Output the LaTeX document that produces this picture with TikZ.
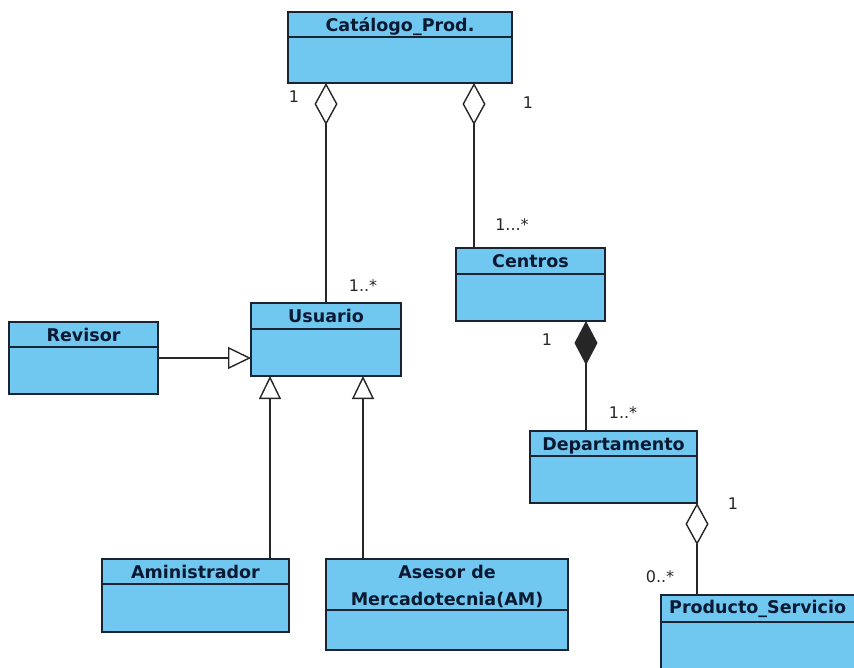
\documentclass[tikz,border=0pt]{standalone}
\usepackage{fontspec}
\setmainfont{DejaVu Sans}
\usetikzlibrary{arrows.meta}
\usetikzlibrary{positioning}
\usetikzlibrary{calc}

\definecolor{classfill}{RGB}{112,200,240}
\definecolor{classedge}{RGB}{25,35,50}
\definecolor{classtext}{RGB}{10,25,50}

\tikzset{
  classbox/.style={draw=classedge, fill=classfill, line width=1.6pt, inner sep=0pt, outer sep=0pt},
  headline/.style={draw=classedge, line width=1.4pt},
  classname/.style={text=classtext, font=\bfseries\fontsize{17.5}{27}\selectfont, inner sep=0pt, anchor=base, align=center},
  mult/.style={text=black!85, font=\fontsize{16}{18}\selectfont, inner sep=0pt},
  link/.style={draw=black!85, line width=1.4pt},
  aggr/.style={link, {Diamond[fill=white, length=42pt, width=23pt, line width=1.4pt]}-},
  comp/.style={link, {Diamond[length=44pt, width=23pt]}-},
  gen/.style={link, -{Triangle[fill=white, length=23pt, width=22pt, line width=1.4pt]}}
}

\begin{document}
\begin{tikzpicture}[x=1pt, y=-1pt]
\useasboundingbox (0,0) rectangle (854,667);
\clip (0,0) rectangle (854,667);

% classes
\node[classbox, minimum width=224, minimum height=71] (catalogo) at (400,47.5) {};
\draw[headline] ($(catalogo.north west)+(0,25)$) -- ($(catalogo.north east)+(0,25)$);
\node[classname] (catalogo-name) at ($(catalogo.north)+(0,19)$) {Catálogo\_Prod.};

\node[classbox, minimum width=150, minimum height=73] (usuario) at (326,339.5) {};
\draw[headline] ($(usuario.north west)+(0,26)$) -- ($(usuario.north east)+(0,26)$);
\node[classname] (usuario-name) at ($(usuario.north)+(0,19.5)$) {Usuario};

\node[classbox, minimum width=149, minimum height=72] (revisor) at (83.5,358) {};
\draw[headline] ($(revisor.north west)+(0,25)$) -- ($(revisor.north east)+(0,25)$);
\node[classname] (revisor-name) at ($(revisor.north)+(0,19)$) {Revisor};

\node[classbox, minimum width=149, minimum height=73] (centros) at (530.5,284.5) {};
\draw[headline] ($(centros.north west)+(0,26)$) -- ($(centros.north east)+(0,26)$);
\node[classname] (centros-name) at ($(centros.north)+(0,19.5)$) {Centros};

\node[classbox, minimum width=167, minimum height=72] (departamento) at (613.5,467) {};
\draw[headline] ($(departamento.north west)+(0,25)$) -- ($(departamento.north east)+(0,25)$);
\node[classname] (departamento-name) at ($(departamento.north)+(0,19)$) {Departamento};

\node[classbox, minimum width=187, minimum height=73] (aministrador) at (195.5,595.5) {};
\draw[headline] ($(aministrador.north west)+(0,25)$) -- ($(aministrador.north east)+(0,25)$);
\node[classname] (aministrador-name) at ($(aministrador.north)+(0,19)$) {Aministrador};

\node[classbox, minimum width=242, minimum height=91] (asesor) at (447,604.5) {};
\draw[headline] ($(asesor.north west)+(0,51)$) -- ($(asesor.north east)+(0,51)$);
\node[classname] (asesor-name) at ($(asesor.north)+(0,46)$) {Asesor de\\Mercadotecnia(AM)};

\node[classbox, minimum width=239, minimum height=105] (producto) at (780.5,647.5) {};
\draw[headline] ($(producto.north west)+(0,27)$) -- ($(producto.north east)+(0,27)$);
\node[classname, anchor=base west] (producto-name) at ($(producto.north west)+(8,18)$) {Producto\_Servicio};

% connector ends
\coordinate (centros-top) at ($(centros.north west)+(18,0)$);
\coordinate (aministrador-top) at ($(aministrador.north west)+(168,0)$);
\coordinate (asesor-top) at ($(asesor.north west)+(37,0)$);
\coordinate (departamento-top) at ($(departamento.north west)+(56,0)$);

% aggregations
\draw[aggr] (catalogo.south -| usuario.north) -- (usuario.north);
\draw[aggr] (catalogo.south -| centros-top) -- (centros-top);
\draw[aggr] (departamento.south east) -- (departamento.south east |- producto.north);
% composition
\draw[comp] (centros.south -| departamento-top) -- (departamento-top);
% generalizations
\draw[gen] (revisor.east) -- (revisor.east -| usuario.west);
\draw[gen] (aministrador-top) -- (aministrador-top |- usuario.south);
\draw[gen] (asesor-top) -- (asesor-top |- usuario.south);

% multiplicities
\node[mult] (catalogo-m1) at (294,97) {1};
\node[mult] (catalogo-m2) at (528,103) {1};
\node[mult] (usuario-m) at (363,286) {1..*};
\node[mult] (centros-m1) at (512,225) {1...*};
\node[mult] (centros-m2) at (547,340) {1};
\node[mult] (departamento-m1) at (623,413) {1..*};
\node[mult] (departamento-m2) at (733,504) {1};
\node[mult] (producto-m) at (660,577) {0..*};

\end{tikzpicture}
\end{document}
